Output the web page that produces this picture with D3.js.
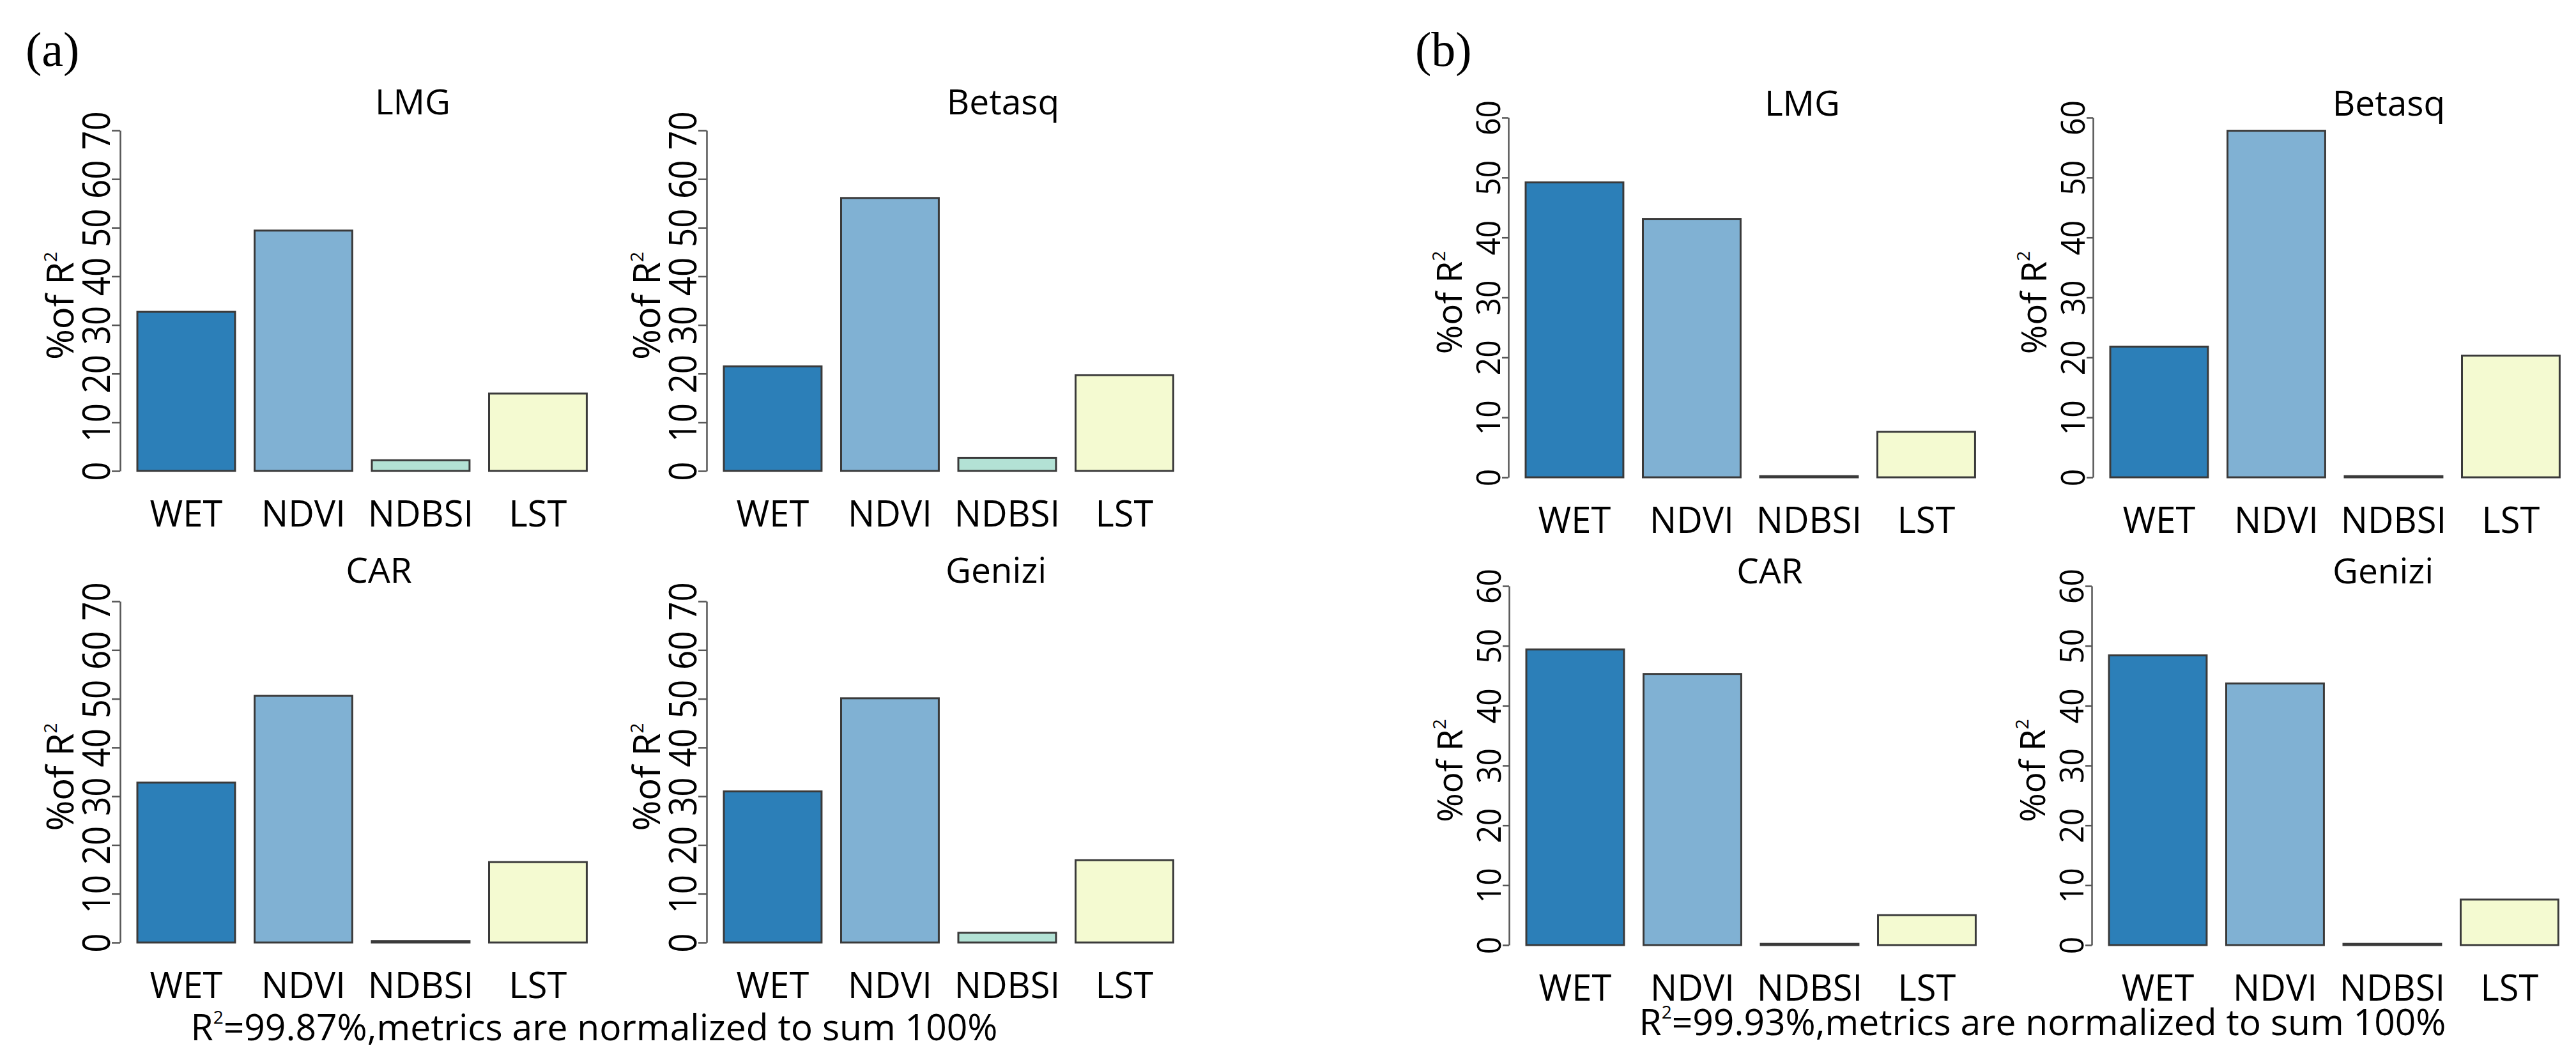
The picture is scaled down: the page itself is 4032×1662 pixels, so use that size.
<!DOCTYPE html>
<html>
<head>
<meta charset="utf-8">
<script src="https://cdn.jsdelivr.net/npm/d3@7"></script>
<style>
  body { margin: 0; background: #fff; }
  text { fill: #000; }
</style>
</head>
<body>
<svg id="chart"></svg>
<script>

/* values, % of R2 for each metric */

var categories = ["WET", "NDVI", "NDBSI", "LST"];
var barColors = ["#2c7fb8", "#80b1d3", "#b3e2d5", "#f4fad1"];

var lmgA    = [32.7, 49.4, 2.2, 15.9];
var betasqA = [21.5, 56.1, 2.7, 19.7];
var carA    = [32.8, 50.6, 0.3, 16.5];
var geniziA = [31.0, 50.1, 2.0, 16.9];

var lmgB    = [49.2, 43.1, 0.2, 7.6];
var betasqB = [21.8, 57.8, 0.2, 20.3];
var carB    = [49.4, 45.3, 0.2, 5.0];
var geniziB = [48.4, 43.7, 0.2, 7.6];

var ticksA = [0, 10, 20, 30, 40, 50, 60, 70];
var ticksB = [0, 10, 20, 30, 40, 50, 60];

var captionA = "=99.87%,metrics are normalized to sum 100%";
var captionB = "=99.93%,metrics are normalized to sum 100%";

var sans = "'Open Sans', sans-serif";
var serif = "'Liberation Serif', 'Times New Roman', serif";

var svgWidth = 4032, svgHeight = 1662;

var svg = d3.select("#chart")
    .attr("width", svgWidth)
    .attr("height", svgHeight)
    .style("font-family", sans);

svg.append("rect")
    .attr("width", svgWidth)
    .attr("height", svgHeight)
    .attr("fill", "#fff");

/* one entry per small barplot: where the y axis sits,
   where 0 and the top tick fall, and text sizes */

var panels = [
  {title: "LMG",    values: lmgA,    ticks: ticksA, axisX: 188,  y0: 737,  yTop: 204, titleDx: 458, titleY: 179, tickFont: 53, tickStretch: 1.15, tickLen: 13, ylabFont: 58},
  {title: "Betasq", values: betasqA, ticks: ticksA, axisX: 1106, y0: 737,  yTop: 204, titleDx: 464, titleY: 179, tickFont: 53, tickStretch: 1.15, tickLen: 13, ylabFont: 58},
  {title: "CAR",    values: carA,    ticks: ticksA, axisX: 188,  y0: 1475, yTop: 941, titleDx: 405, titleY: 912, tickFont: 53, tickStretch: 1.15, tickLen: 13, ylabFont: 58},
  {title: "Genizi", values: geniziA, ticks: ticksA, axisX: 1106, y0: 1475, yTop: 941, titleDx: 453, titleY: 912, tickFont: 53, tickStretch: 1.15, tickLen: 13, ylabFont: 58},
  {title: "LMG",    values: lmgB,    ticks: ticksB, axisX: 2361, y0: 747,  yTop: 184, titleDx: 460, titleY: 181, tickFont: 48, tickStretch: 1.06, tickLen: 10, ylabFont: 55},
  {title: "Betasq", values: betasqB, ticks: ticksB, axisX: 3276, y0: 747,  yTop: 184, titleDx: 463, titleY: 181, tickFont: 48, tickStretch: 1.06, tickLen: 10, ylabFont: 55},
  {title: "CAR",    values: carB,    ticks: ticksB, axisX: 2362, y0: 1479, yTop: 917, titleDx: 408, titleY: 913, tickFont: 48, tickStretch: 1.06, tickLen: 10, ylabFont: 55},
  {title: "Genizi", values: geniziB, ticks: ticksB, axisX: 3274, y0: 1479, yTop: 917, titleDx: 456, titleY: 913, tickFont: 48, tickStretch: 1.06, tickLen: 10, ylabFont: 55}
];

var barStep = 183.5;          // bar width + gap, like R barplot space = 0.2
var barOffset = 27;           // gap between y axis and first bar

panels.forEach(function(p) {

    var y = d3.scaleLinear()
        .domain([0, d3.max(p.ticks)])
        .range([p.y0, p.yTop]);

    var x = d3.scaleBand()
        .domain(categories)
        .range([p.axisX + barOffset, p.axisX + barOffset + barStep * (categories.length - 1 / 6)])
        .paddingInner(1 / 6)
        .paddingOuter(0);

    var g = svg.append("g");

    // y axis, labels turned parallel to the axis as R does
    var axis = g.append("g")
        .attr("transform", "translate(" + p.axisX + ",0)")
        .call(d3.axisLeft(y)
            .tickValues(p.ticks)
            .tickSize(p.tickLen)
            .tickSizeOuter(0)
            .tickFormat(d3.format("d")));

    axis.attr("font-family", null);
    axis.select(".domain").attr("stroke", "#555").attr("stroke-width", 2.5);
    axis.selectAll(".tick line").attr("stroke", "#555").attr("stroke-width", 2.5);
    axis.selectAll(".tick text")
        .attr("x", 0)
        .attr("dy", 0)
        .attr("text-anchor", "middle")
        .attr("font-size", p.tickFont)
        .attr("fill", "#000")
        .attr("transform", "translate(" + (-(p.tickLen + 3)) + ",0) rotate(-90) scale(1," + p.tickStretch + ")");

    // bars
    g.selectAll("rect.bar")
        .data(p.values)
        .enter()
        .append("rect")
        .attr("class", "bar")
        .attr("x", function(d, i) { return x(categories[i]); })
        .attr("width", x.bandwidth())
        .attr("y", function(d) { return y(d); })
        .attr("height", function(d) { return y(0) - y(d); })
        .attr("fill", function(d, i) { return barColors[i]; })
        .attr("stroke", "#3a3a3a")
        .attr("stroke-width", 3);

    // category names under the bars
    g.selectAll("text.xlab")
        .data(categories)
        .enter()
        .append("text")
        .attr("class", "xlab")
        .attr("x", function(d) { return x(d) + x.bandwidth() / 2; })
        .attr("y", p.y0 + 87)
        .attr("text-anchor", "middle")
        .attr("font-size", 56)
        .text(function(d) { return d; });

    // metric name
    g.append("text")
        .attr("x", p.axisX + p.titleDx)
        .attr("y", p.titleY)
        .attr("text-anchor", "middle")
        .attr("font-size", 55)
        .text(p.title);

    // y axis title "%of R2"
    var ylab = g.append("text")
        .attr("text-anchor", "middle")
        .attr("font-size", p.ylabFont)
        .attr("transform", "translate(" + (p.axisX - 73) + "," + ((p.y0 + p.yTop) / 2 + 8) + ") rotate(-90)");
    ylab.append("tspan").text("%of R");
    ylab.append("tspan")
        .attr("font-size", 28)
        .attr("dy", -26)
        .text("2");
});

/* panel letters */
svg.append("text")
    .attr("x", 40).attr("y", 103)
    .style("font-family", serif)
    .attr("font-size", 76)
    .text("(a)");

svg.append("text")
    .attr("x", 2215).attr("y", 103)
    .style("font-family", serif)
    .attr("font-size", 76)
    .text("(b)");

/* captions under each half */
function caption(cx, cy, rest) {
    var t = svg.append("text")
        .attr("x", cx)
        .attr("y", cy)
        .attr("text-anchor", "middle")
        .attr("font-size", 57);
    t.append("tspan").text("R");
    t.append("tspan").attr("font-size", 28).attr("dy", -26).text("2");
    t.append("tspan").attr("dy", 26).text(rest);
}

caption(930, 1628, captionA);
caption(3197, 1620, captionB);

</script>
</body>
</html>
